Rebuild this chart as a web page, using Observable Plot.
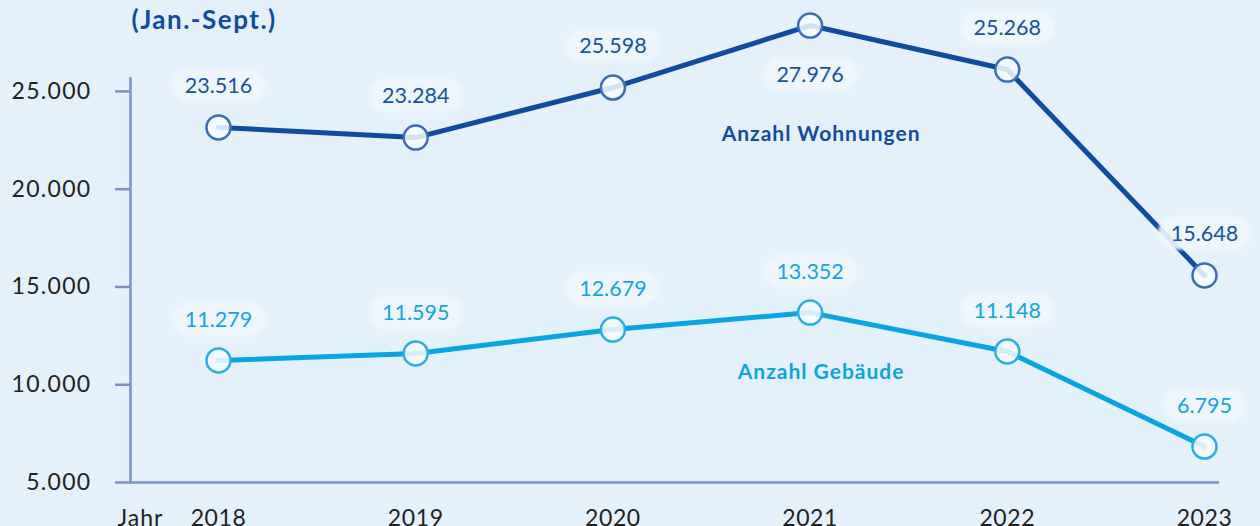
<!DOCTYPE html>
<html><head><meta charset="utf-8">
<script src="https://cdn.jsdelivr.net/npm/d3@7"></script>
<script src="https://cdn.jsdelivr.net/npm/@observablehq/plot@0.6"></script>
<style>
html,body{margin:0;padding:0;background:#e4f1fb;}
#chart{width:1260px;height:526px;overflow:hidden;position:relative;}
#chart svg{font-family:Lato,"Open Sans",sans-serif;background:#e4f1fb;}
#chart g[aria-label="y-axis tick label"] text{letter-spacing:1.3px;}
#chart g[aria-label="x-axis tick label"] text{letter-spacing:0.6px;}
</style></head><body><div id="chart"></div>
<script>
// Data
const years = [2018, 2019, 2020, 2021, 2022, 2023];
const wohnungen = [23160, 22640, 25200, 28370, 26120, 15590];          // plotted point positions
const wohnungenLabels = ["23.516", "23.284", "25.598", "27.976", "25.268", "15.648"];
const gebaeude = [11240, 11600, 12820, 13690, 11700, 6840];            // plotted point positions
const gebaeudeLabels = ["11.279", "11.595", "12.679", "13.352", "11.148", "6.795"];
const yTicks = [5000, 10000, 15000, 20000, 25000];
const seriesNames = ["Anzahl Wohnungen", "Anzahl Gebäude"];
const title = "(Jan.-Sept.)";
const xLabel = "Jahr";

const dark = "#0f4c9e", light = "#0aa5e0", axisColor = "#7d8fc8", ink = "#222";
const W = years.map((year, i) => ({year, value: wohnungen[i], label: wohnungenLabels[i]}));
const G = years.map((year, i) => ({year, value: gebaeude[i], label: gebaeudeLabels[i]}));
const wMax = d3.max(wohnungen);
const fmt = d3.formatLocale({decimal: ",", thousands: ".", grouping: [3]}).format(",");

const chart = Plot.plot({
  width: 1260,
  height: 526,
  marginTop: 0,
  marginBottom: 44,
  marginLeft: 130,
  marginRight: 41,
  style: {background: "#e4f1fb", fontFamily: "Lato, 'Open Sans', sans-serif"},
  x: {domain: [2018, 2023], insetLeft: 88, insetRight: 15, label: null},
  y: {domain: [5000, 29650], label: null},
  marks: [
    Plot.frame({anchor: "left", stroke: axisColor, strokeWidth: 2.5, insetTop: 78}),
    Plot.ruleY([5000], {stroke: axisColor, strokeWidth: 2.5}),
    Plot.axisY({ticks: yTicks, tickSize: 15, tickPadding: 24, tickFormat: fmt, stroke: axisColor, strokeWidth: 2.5, fill: ink, fontSize: 23, label: null}),
    Plot.axisX({ticks: years, tickSize: 0, tickPadding: 27, tickFormat: d => String(d), fill: ink, fontSize: 23, label: null}),
    Plot.text([xLabel], {frameAnchor: "bottom-left", dx: -13, dy: 27, lineAnchor: "top", textAnchor: "start", fill: ink, fontSize: 23}),
    Plot.text([title], {frameAnchor: "top-left", dx: 1, dy: 20, lineAnchor: "middle", textAnchor: "start", fill: dark, fontSize: 26, fontWeight: 700}),
    Plot.line(W, {x: "year", y: "value", stroke: dark, strokeWidth: 5, strokeLinejoin: "round"}),
    Plot.line(G, {x: "year", y: "value", stroke: light, strokeWidth: 5, strokeLinejoin: "round"}),
    Plot.dot(W, {x: "year", y: "value", r: 12, fill: "#f6fbff", fillOpacity: 0.85, stroke: "#3a6db4", strokeWidth: 2.5}),
    Plot.dot(G, {x: "year", y: "value", r: 12, fill: "#f6fbff", fillOpacity: 0.85, stroke: "#2aaee3", strokeWidth: 2.5}),
    Plot.text(W.filter(d => d.value !== wMax), {x: "year", y: "value", text: "label", dy: -41, fill: "#1553a3", fontSize: 21.5}),
    Plot.text(W.filter(d => d.value === wMax), {x: "year", y: "value", text: "label", dy: 50, fill: "#1553a3", fontSize: 21.5}),
    Plot.text(G, {x: "year", y: "value", text: "label", dy: -40, fill: "#14a5e0", fontSize: 21.5}),
    Plot.text([seriesNames[0]], {x: () => years[3], y: () => wohnungen[3], dx: 11, dy: 109, fill: dark, fontSize: 21, fontWeight: 700}),
    Plot.text([seriesNames[1]], {x: () => years[3], y: () => gebaeude[3], dx: 11, dy: 60, fill: light, fontSize: 21, fontWeight: 700})
  ]
});
document.getElementById("chart").appendChild(chart);

const ns = "http://www.w3.org/2000/svg";
const spacing = new Map([[title, "1.5px"], [seriesNames[0], "1px"], [seriesNames[1], "1px"], [xLabel, "1px"]]);
const valueLabels = new Set([...wohnungenLabels, ...gebaeudeLabels]);
const defs = document.createElementNS(ns, "defs");
defs.innerHTML = '<filter id="soft" x="-20%" y="-40%" width="140%" height="180%"><feGaussianBlur stdDeviation="1.5"/></filter>';
chart.insertBefore(defs, chart.firstChild);
chart.querySelectorAll("text").forEach(t => {
  const s = t.textContent;
  if (spacing.has(s)) t.style.letterSpacing = spacing.get(s);
  if (valueLabels.has(s) && t.parentNode.getAttribute("aria-label") === "text") {
    const b = t.getBBox();
    const h = 33, cy = b.y + b.height / 2;
    const r = document.createElementNS(ns, "rect");
    r.setAttribute("x", b.x - 13);
    r.setAttribute("y", cy - h / 2);
    r.setAttribute("width", b.width + 26);
    r.setAttribute("height", h);
    r.setAttribute("rx", h / 2);
    r.setAttribute("fill", "#eff6fd");
    r.setAttribute("fill-opacity", "0.9");
    r.setAttribute("filter", "url(#soft)");
    if (t.getAttribute("transform")) r.setAttribute("transform", t.getAttribute("transform"));
    t.parentNode.insertBefore(r, t);
  }
});
</script>
</body></html>
